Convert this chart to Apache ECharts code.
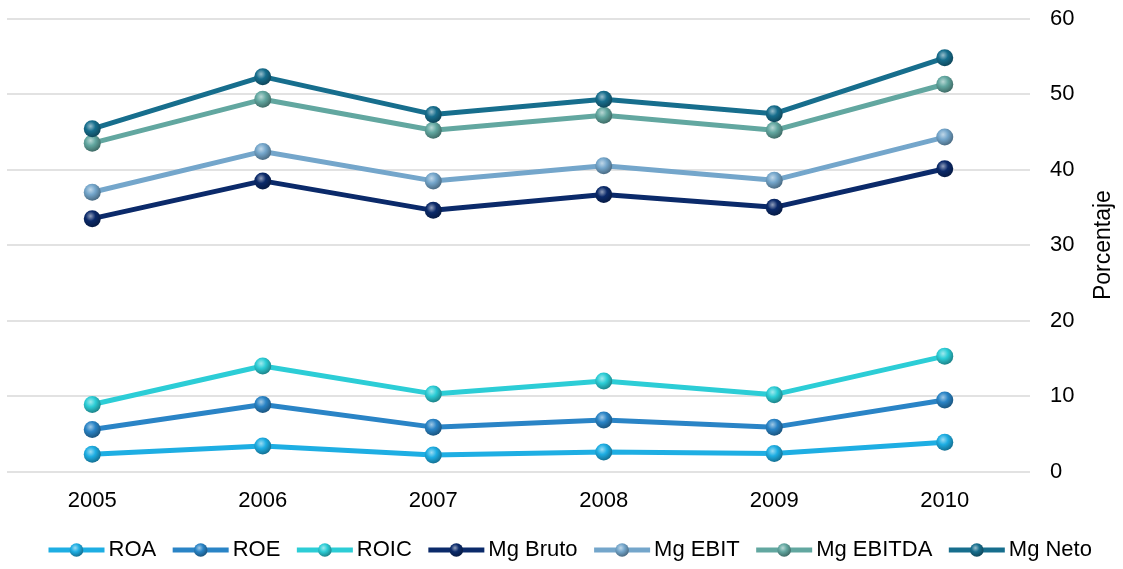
<!DOCTYPE html>
<html>
<head>
<meta charset="utf-8">
<script src="https://cdn.jsdelivr.net/npm/echarts@6/dist/echarts.min.js"></script>
<style>html,body{margin:0;padding:0;background:#fff}#c{width:1123px;height:569px}</style>
</head>
<body>
<div id="c"></div>
<script>
const years = ['2005','2006','2007','2008','2009','2010'];
const seriesNames = ['ROA','ROE','ROIC','Mg Bruto','Mg EBIT','Mg EBITDA','Mg Neto'];
const roa = [2.3, 3.4, 2.2, 2.6, 2.4, 3.9];
const roe = [5.6, 8.9, 5.9, 6.85, 5.9, 9.5];
const roic = [8.9, 14.0, 10.3, 12.0, 10.2, 15.3];
const mgBruto = [33.5, 38.5, 34.6, 36.7, 35.0, 40.1];
const mgEbit = [37.0, 42.4, 38.5, 40.5, 38.6, 44.3];
const mgEbitda = [43.5, 49.3, 45.2, 47.2, 45.2, 51.3];
const mgNeto = [45.4, 52.3, 47.3, 49.3, 47.4, 54.8];
const yTicks = {min: 0, max: 60, interval: 10};

const values = [roa, roe, roic, mgBruto, mgEbit, mgEbitda, mgNeto];
const colors = ['#1eaee3','#2a84c6','#2ccdd6','#0b2a6a','#74a6cb','#62a7a0','#176e8d'];

function shade(hex, f) {
  const n = parseInt(hex.slice(1), 16);
  let r = (n >> 16) & 255, g = (n >> 8) & 255, b = n & 255;
  if (f > 0) { r += (255 - r) * f; g += (255 - g) * f; b += (255 - b) * f; }
  else { r *= (1 + f); g *= (1 + f); b *= (1 + f); }
  return 'rgb(' + Math.round(r) + ',' + Math.round(g) + ',' + Math.round(b) + ')';
}
function sphere(c) {
  return {
    type: 'radial', x: 0.4, y: 0.35, r: 0.65,
    colorStops: [
      {offset: 0, color: shade(c, 0.55)},
      {offset: 0.45, color: c},
      {offset: 1, color: shade(c, -0.35)}
    ]
  };
}

const FONT = 'Liberation Sans, Arial, sans-serif';
const chart = echarts.init(document.getElementById('c'));
chart.setOption({
  animation: false,
  textStyle: {fontFamily: FONT},
  grid: {left: 7, right: 87, top: 18.5, bottom: 97.3, containLabel: false},
  legend: {
    top: 539,
    left: 46,
    padding: 0,
    itemWidth: 56,
    itemHeight: 17,
    itemGap: 14,
    data: seriesNames,
    lineStyle: {width: 5},
    textStyle: {fontSize: 22, color: '#000', fontFamily: FONT, padding: [0,0,0,-1]}
  },
  xAxis: {
    type: 'category',
    data: years,
    boundaryGap: true,
    axisLine: {show: false},
    axisTick: {show: false},
    axisLabel: {fontSize: 22, color: '#000', margin: 18}
  },
  yAxis: {
    type: 'value',
    position: 'right',
    min: yTicks.min, max: yTicks.max, interval: yTicks.interval,
    name: 'Porcentaje',
    nameLocation: 'middle',
    nameRotate: 90,
    nameGap: 62,
    nameTextStyle: {fontSize: 23, color: '#000'},
    axisLine: {show: false},
    axisTick: {show: false},
    axisLabel: {fontSize: 22, color: '#000', margin: 20},
    splitLine: {lineStyle: {color: '#d9d9d9', width: 1.5}}
  },
  series: seriesNames.map((name, i) => ({
    name: name,
    type: 'line',
    data: values[i],
    symbol: 'circle',
    symbolSize: 17,
    lineStyle: {color: colors[i], width: 5},
    itemStyle: {color: sphere(colors[i]), borderWidth: 0},
    emphasis: {disabled: true}
  }))
});
</script>
</body>
</html>
